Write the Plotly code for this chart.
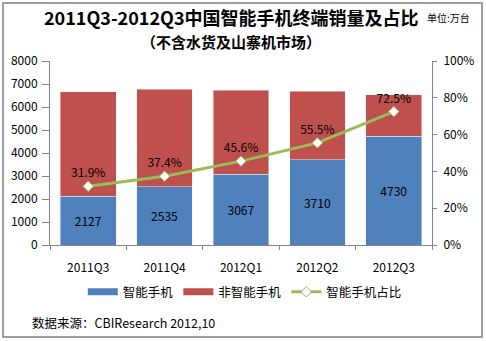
import plotly.graph_objects as go

quarters = ["2011Q3", "2011Q4", "2012Q1", "2012Q2", "2012Q3"]
smart = [2127, 2535, 3067, 3710, 4730]            # 万台
share_pct = [31.9, 37.4, 45.6, 55.5, 72.5]        # 智能手机占比 (%)
total = [6668, 6778, 6726, 6685, 6524]            # 终端总销量 (万台)
non_smart = [t - s for t, s in zip(total, smart)]
share = [p / 100 for p in share_pct]

FONT = "Noto Sans CJK SC"
AXIS_GRAY = "#868686"
BLUE, RED, GREEN = "#4F81BD", "#C0504D", "#9BBB59"

fig = go.Figure()
fig.add_trace(go.Bar(
    x=quarters, y=smart, name="智能手机", marker_color=BLUE, showlegend=False,
    text=[str(v) for v in smart], textposition="inside", insidetextanchor="middle",
    textfont=dict(color="#000000", size=12, family=FONT),
))
fig.add_trace(go.Bar(
    x=quarters, y=non_smart, name="非智能手机", marker_color=RED, showlegend=False,
))

# wide flat swatches for the bar series in the legend
fig.add_trace(go.Scatter(x=[None], y=[None], name="智能手机", mode="lines",
                         line=dict(color=BLUE, width=7)))
fig.add_trace(go.Scatter(x=[None], y=[None], name="非智能手机", mode="lines",
                         line=dict(color=RED, width=7)))

fig.add_trace(go.Scatter(
    x=quarters, y=share, name="智能手机占比", yaxis="y2",
    mode="lines+markers+text",
    line=dict(color=GREEN, width=3),
    marker=dict(symbol="diamond", size=8, color="#FFFFFF",
                line=dict(color=GREEN, width=1)),
    text=[f"{p:.1f}%" for p in share_pct], textposition="top center",
    textfont=dict(color="#000000", size=12, family=FONT),
))

fig.update_layout(
    width=486, height=341,
    margin=dict(l=50, r=54, t=61, b=96),
    paper_bgcolor="#FFFFFF", plot_bgcolor="#FFFFFF",
    barmode="stack", bargap=0.27,
    font=dict(family=FONT, size=12, color="#000000"),
    showlegend=True,
    legend=dict(orientation="h", x=0.51, xanchor="center", y=-0.175, yanchor="top",
                font=dict(size=12.5), traceorder="normal", itemwidth=30),
    xaxis=dict(
        type="category", showline=True, linecolor=AXIS_GRAY, linewidth=1,
        ticks="outside", tickson="boundaries", ticklen=4, tickcolor=AXIS_GRAY,
        showgrid=False, tickfont=dict(size=12), ticklabelstandoff=12,
    ),
    yaxis=dict(
        range=[0, 8000], dtick=1000, showline=True, linecolor=AXIS_GRAY,
        ticks="outside", ticklen=7, tickcolor=AXIS_GRAY, showgrid=False,
        zeroline=False, tickfont=dict(size=12), ticklabelstandoff=2,
    ),
    yaxis2=dict(
        range=[0, 1], dtick=0.2, tickformat=".0%", overlaying="y", side="right",
        showline=True, linecolor=AXIS_GRAY, ticks="outside", ticklen=4,
        tickcolor=AXIS_GRAY, showgrid=False, zeroline=False, tickfont=dict(size=12),
        ticklabelstandoff=4,
    ),
    annotations=[
        dict(text="<b>2011Q3-2012Q3中国智能手机终端销量及占比</b>", xref="paper", yref="paper",
             x=0.474, y=1.24, xanchor="center", yanchor="middle", showarrow=False,
             font=dict(size=18)),
        dict(text="单位:万台", xref="paper", yref="paper", x=1.105, y=1.235,
             xanchor="right", yanchor="middle", showarrow=False, font=dict(size=10)),
        dict(text="<b>（不含水货及山寨机市场）</b>", xref="paper", yref="paper",
             x=0.474, y=1.105, xanchor="center", yanchor="middle", showarrow=False,
             font=dict(size=15)),
        dict(text="数据来源：CBIResearch 2012,10", xref="paper", yref="paper",
             x=-0.052, y=-0.42, xanchor="left", yanchor="middle", showarrow=False,
             font=dict(size=12.5)),
    ],
    shapes=[
        dict(type="rect", xref="paper", yref="paper",
             x0=-0.123, x1=1.131, y0=-0.50, y1=1.315,
             line=dict(color="#808080", width=1.5), fillcolor="rgba(0,0,0,0)"),
    ],
)

fig.write_html("out.html")
